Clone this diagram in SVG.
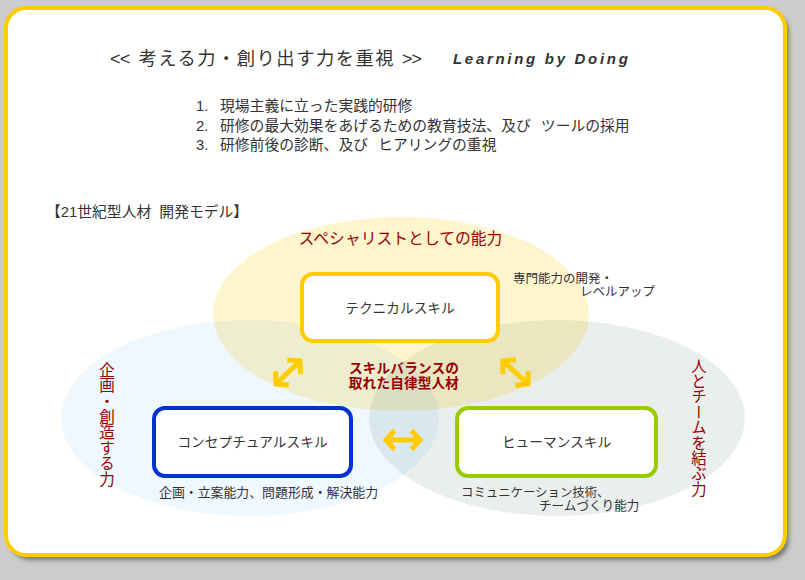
<svg xmlns="http://www.w3.org/2000/svg" width="805" height="580" viewBox="0 0 805 580">
  <defs>
    <filter id="shadow" x="-5%" y="-5%" width="110%" height="110%">
      <feGaussianBlur stdDeviation="2"/>
    </filter>
    <marker id="chev" viewBox="-14 -14 20 28" refX="0" refY="0" markerWidth="20" markerHeight="28" markerUnits="userSpaceOnUse" orient="auto-start-reverse" overflow="visible">
      <path d="M-8.5,-9.5 L0,0 L-8.5,9.5" fill="none" stroke="#FFCC00" stroke-width="5" stroke-linejoin="miter"/>
    </marker>
    <style>
      .jp { font-family: "Liberation Sans", "Noto Sans CJK JP", sans-serif; fill: #333333; }
      .red { font-family: "Noto Sans CJK JP", sans-serif; fill: #990000; }
      .node { fill: #FFFFFF; stroke-width: 4; }
      .conn { fill: none; stroke: #FFCC00; stroke-width: 5; marker-start: url(#chev); marker-end: url(#chev); }
      .vert { writing-mode: vertical-rl; }
    </style>
  </defs>

  <rect x="0" y="0" width="805" height="580" fill="#CCCCCC"/>

  <g id="card">
    <rect x="10" y="12" width="779" height="548" rx="20" fill="#7A7A7A" filter="url(#shadow)"/>
    <rect x="6" y="8" width="779" height="547" rx="20" fill="#FFFFFF" stroke="#FFCC00" stroke-width="4"/>
  </g>

  <g id="header">
    <text class="jp" x="110" y="65" font-size="18.3" letter-spacing="1.5"><tspan letter-spacing="-1">&lt;</tspan>&lt; 考える力・創り出す力を重視 <tspan letter-spacing="-1">&gt;</tspan>&gt;</text>
    <text x="453" y="64" font-family="Liberation Sans, Arial, sans-serif" font-size="15" font-weight="bold" font-style="italic" letter-spacing="2.7" fill="#333333">Learning by Doing</text>
    <g class="jp" font-size="14.8">
      <text x="196" y="111">1.</text><text x="220" y="111">現場主義に立った実践的研修</text>
      <text x="196" y="131">2.</text><text x="220" y="131" word-spacing="6">研修の最大効果をあげるための教育技法、及び ツールの採用</text>
      <text x="196" y="150">3.</text><text x="220" y="150" word-spacing="6">研修前後の診断、及び ヒアリングの重視</text>
    </g>
    <text class="jp" x="46" y="217" font-size="14.8" word-spacing="4">【21世紀型人材 開発モデル】</text>
  </g>

  <g id="spheres">
    <ellipse cx="401" cy="314" rx="188" ry="97" fill="#FFCC00" fill-opacity="0.2"/>
    <ellipse cx="250" cy="418" rx="189" ry="98" fill="#3399FF" fill-opacity="0.08"/>
    <ellipse cx="557" cy="418" rx="188" ry="98" fill="#336655" fill-opacity="0.1"/>
  </g>

  <g id="labels">
    <text class="red" x="400.5" y="244" font-size="15.8" text-anchor="middle">スペシャリストとしての能力</text>
    <text class="jp" x="513" y="283" font-size="12.5">専門能力の開発・</text>
    <text class="jp" x="580" y="296" font-size="12.5">レベルアップ</text>
    <text class="red" font-size="13.6" font-weight="bold" text-anchor="middle" letter-spacing="0.2"><tspan x="404" y="373">スキルバランスの</tspan><tspan x="404" y="388">取れた自律型人材</tspan></text>
    <text class="red vert" x="107" y="362" font-size="15.6">企画・創造する力</text>
    <text class="red vert" x="699" y="358" font-size="15.4">人とチームを結ぶ力</text>
    <text class="jp" x="159" y="497" font-size="12.9">企画・立案能力、問題形成・解決能力</text>
    <text class="jp" x="461" y="497" font-size="12.4">コミュニケーション技術、</text>
    <text class="jp" x="539" y="510" font-size="12.6">チームづくり能力</text>
  </g>

  <g id="node-technical">
    <rect class="node" x="302" y="274" width="196" height="67" rx="11" stroke="#FFCC00"/>
    <text class="jp" x="400" y="312.5" font-size="13.7" text-anchor="middle">テクニカルスキル</text>
  </g>
  <g id="node-conceptual">
    <rect class="node" x="154" y="408" width="197" height="68" rx="11" stroke="#0033CC"/>
    <text class="jp" x="252.5" y="447" font-size="13.7" text-anchor="middle">コンセプチュアルスキル</text>
  </g>
  <g id="node-human">
    <rect class="node" x="457" y="408" width="199" height="68" rx="11" stroke="#99CC00"/>
    <text class="jp" x="556.5" y="447" font-size="13.7" text-anchor="middle">ヒューマンスキル</text>
  </g>

  <g id="connectors">
    <path class="conn" d="M276,384 L300,361"/>
    <path class="conn" d="M503,361 L528,384"/>
    <path class="conn" d="M386,440 L420,440"/>
  </g>
</svg>
